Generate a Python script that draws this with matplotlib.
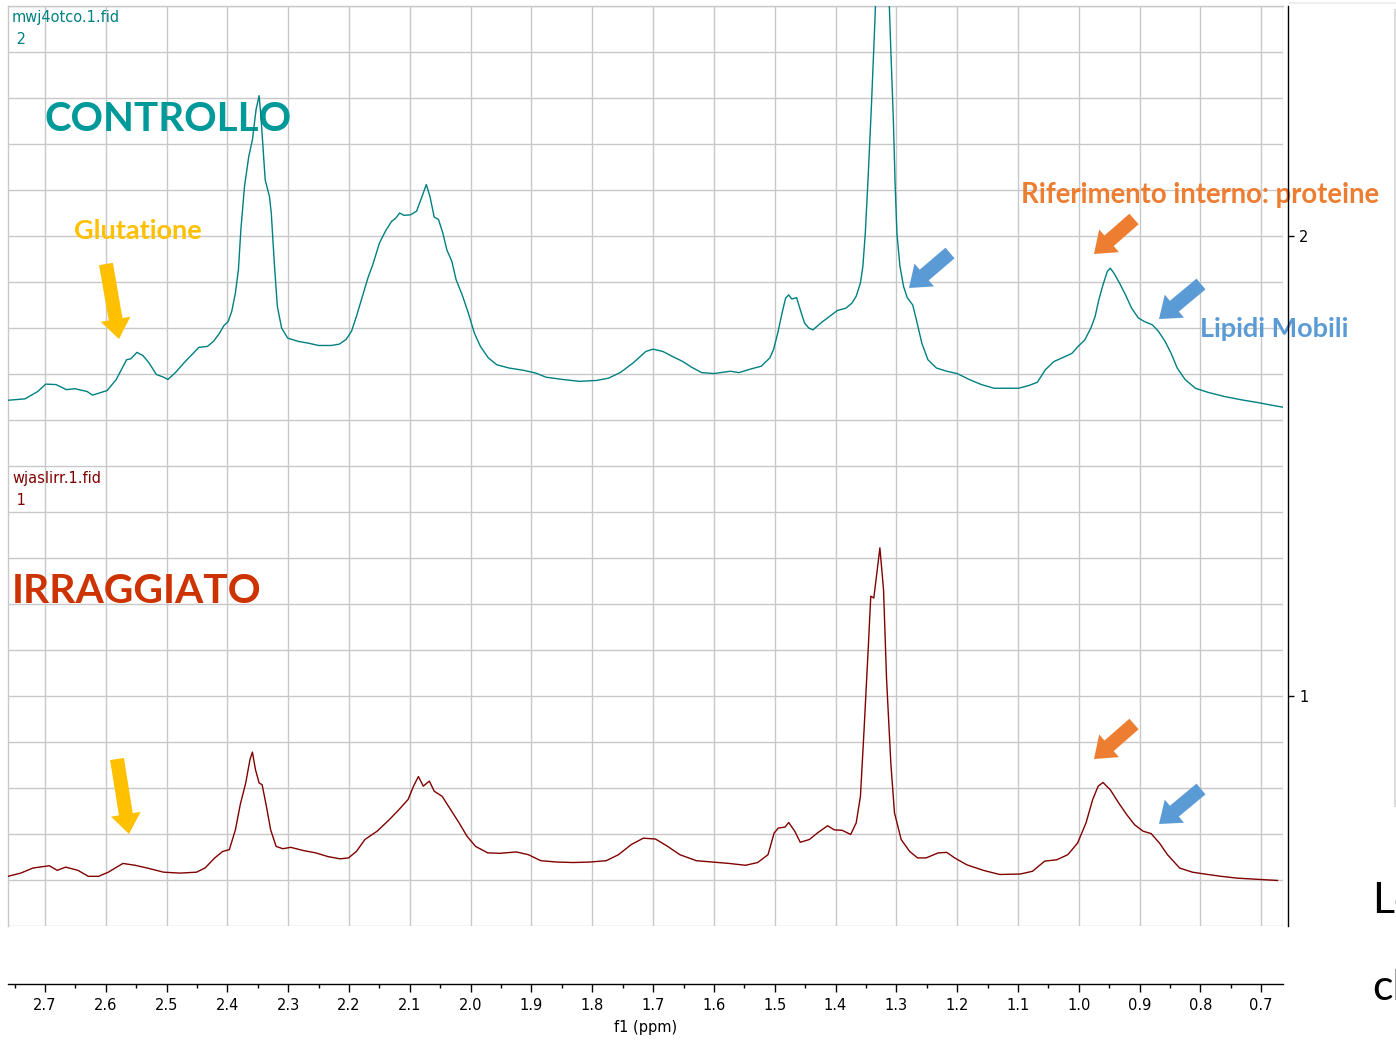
import numpy as np
import matplotlib
matplotlib.use("Agg")
import matplotlib.pyplot as plt
from matplotlib.patches import FancyArrow
from matplotlib.lines import Line2D
from matplotlib.ticker import MultipleLocator, FormatStrFormatter

# ---- spectrum 2 : control sample (ppm, stacked intensity) ----
ctrl_ppm = [2.760, 2.733, 2.712, 2.699, 2.682, 2.665, 2.651, 2.631, 2.622, 2.610,
            2.598, 2.583, 2.566, 2.559, 2.549, 2.539, 2.529, 2.517, 2.505, 2.498,
            2.485, 2.471, 2.458, 2.447, 2.433, 2.423, 2.413, 2.406, 2.399, 2.393,
            2.387, 2.382, 2.378, 2.372, 2.365, 2.359, 2.353, 2.348, 2.345, 2.338,
            2.331, 2.328, 2.323, 2.318, 2.311, 2.301, 2.284, 2.267, 2.250, 2.229,
            2.216, 2.205, 2.196, 2.188, 2.178, 2.169, 2.161, 2.150, 2.140, 2.130,
            2.123, 2.117, 2.110, 2.099, 2.089, 2.080, 2.073, 2.067, 2.060, 2.053,
            2.046, 2.039, 2.031, 2.024, 2.014, 2.004, 1.994, 1.984, 1.971, 1.957,
            1.937, 1.913, 1.893, 1.876, 1.848, 1.821, 1.793, 1.773, 1.753, 1.732,
            1.712, 1.700, 1.684, 1.668, 1.651, 1.637, 1.620, 1.600, 1.573, 1.559,
            1.539, 1.522, 1.508, 1.502, 1.495, 1.488, 1.482, 1.477, 1.472, 1.464,
            1.458, 1.451, 1.444, 1.437, 1.424, 1.410, 1.397, 1.383, 1.373, 1.366,
            1.359, 1.355, 1.351, 1.346, 1.341, 1.336, 1.332, 1.327, 1.322, 1.317,
            1.312, 1.309, 1.305, 1.302, 1.299, 1.294, 1.288, 1.282, 1.273, 1.267,
            1.258, 1.248, 1.234, 1.217, 1.200, 1.180, 1.160, 1.139, 1.119, 1.099,
            1.082, 1.068, 1.055, 1.041, 1.024, 1.011, 1.001, 0.990, 0.980, 0.973,
            0.967, 0.960, 0.953, 0.948, 0.942, 0.933, 0.923, 0.913, 0.902, 0.892,
            0.879, 0.869, 0.858, 0.848, 0.838, 0.825, 0.808, 0.787, 0.760, 0.733,
            0.706, 0.686, 0.665]
ctrl_int = [1.643, 1.646, 1.662, 1.678, 1.677, 1.666, 1.668, 1.662, 1.654, 1.659,
            1.664, 1.688, 1.731, 1.733, 1.747, 1.740, 1.724, 1.699, 1.693, 1.688,
            1.704, 1.725, 1.743, 1.758, 1.760, 1.771, 1.789, 1.805, 1.814, 1.836,
            1.876, 1.927, 2.014, 2.108, 2.173, 2.209, 2.275, 2.305, 2.260, 2.122,
            2.086, 2.050, 1.941, 1.847, 1.800, 1.778, 1.771, 1.767, 1.762, 1.762,
            1.765, 1.775, 1.793, 1.825, 1.869, 1.909, 1.938, 1.985, 2.011, 2.032,
            2.039, 2.050, 2.045, 2.046, 2.054, 2.086, 2.112, 2.086, 2.041, 2.036,
            2.007, 1.969, 1.945, 1.905, 1.872, 1.833, 1.789, 1.760, 1.735, 1.720,
            1.713, 1.708, 1.702, 1.693, 1.688, 1.684, 1.686, 1.691, 1.704, 1.725,
            1.749, 1.754, 1.749, 1.738, 1.727, 1.715, 1.703, 1.701, 1.706, 1.703,
            1.711, 1.717, 1.735, 1.753, 1.789, 1.832, 1.865, 1.872, 1.863, 1.866,
            1.840, 1.811, 1.800, 1.796, 1.811, 1.825, 1.838, 1.843, 1.854, 1.869,
            1.898, 1.934, 2.006, 2.137, 2.281, 2.441, 2.580, 2.680, 2.700, 2.640,
            2.520, 2.404, 2.259, 2.115, 2.006, 1.934, 1.890, 1.866, 1.850, 1.818,
            1.767, 1.731, 1.713, 1.706, 1.701, 1.688, 1.677, 1.669, 1.669, 1.669,
            1.675, 1.682, 1.709, 1.727, 1.737, 1.745, 1.760, 1.774, 1.800, 1.825,
            1.861, 1.894, 1.923, 1.930, 1.919, 1.898, 1.872, 1.843, 1.822, 1.814,
            1.807, 1.793, 1.771, 1.745, 1.713, 1.688, 1.669, 1.660, 1.651, 1.644,
            1.638, 1.633, 1.628]

# ---- spectrum 1 : irradiated sample ----
irr_ppm = [2.761, 2.740, 2.720, 2.693, 2.680, 2.666, 2.646, 2.629, 2.612, 2.596,
           2.572, 2.552, 2.532, 2.505, 2.478, 2.451, 2.437, 2.421, 2.408, 2.397,
           2.387, 2.379, 2.370, 2.363, 2.359, 2.354, 2.348, 2.343, 2.336, 2.329,
           2.320, 2.309, 2.296, 2.275, 2.255, 2.235, 2.215, 2.201, 2.188, 2.174,
           2.154, 2.134, 2.118, 2.103, 2.094, 2.086, 2.078, 2.068, 2.060, 2.047,
           2.033, 2.019, 2.006, 1.992, 1.972, 1.952, 1.925, 1.905, 1.885, 1.858,
           1.831, 1.804, 1.777, 1.757, 1.736, 1.716, 1.696, 1.676, 1.656, 1.629,
           1.602, 1.575, 1.548, 1.528, 1.511, 1.501, 1.494, 1.483, 1.477, 1.467,
           1.458, 1.443, 1.430, 1.413, 1.402, 1.389, 1.375, 1.366, 1.359, 1.353,
           1.346, 1.342, 1.337, 1.332, 1.327, 1.321, 1.316, 1.309, 1.303, 1.292,
           1.278, 1.265, 1.251, 1.231, 1.217, 1.204, 1.184, 1.157, 1.130, 1.096,
           1.076, 1.056, 1.036, 1.018, 1.002, 0.988, 0.977, 0.968, 0.960, 0.948,
           0.934, 0.921, 0.908, 0.894, 0.881, 0.867, 0.854, 0.834, 0.813, 0.793,
           0.766, 0.739, 0.712, 0.673]
irr_int = [0.608, 0.615, 0.626, 0.631, 0.621, 0.628, 0.621, 0.608, 0.608, 0.617,
           0.636, 0.632, 0.626, 0.617, 0.615, 0.617, 0.626, 0.648, 0.662, 0.666,
           0.709, 0.764, 0.811, 0.862, 0.878, 0.840, 0.811, 0.807, 0.760, 0.709,
           0.673, 0.668, 0.671, 0.664, 0.659, 0.651, 0.646, 0.648, 0.662, 0.688,
           0.706, 0.731, 0.753, 0.775, 0.804, 0.825, 0.804, 0.815, 0.793, 0.782,
           0.753, 0.724, 0.695, 0.673, 0.659, 0.658, 0.661, 0.655, 0.642, 0.639,
           0.638, 0.639, 0.642, 0.655, 0.677, 0.691, 0.689, 0.673, 0.655, 0.642,
           0.639, 0.636, 0.632, 0.638, 0.655, 0.702, 0.713, 0.715, 0.725, 0.706,
           0.682, 0.688, 0.702, 0.718, 0.709, 0.708, 0.699, 0.724, 0.782, 0.927,
           1.108, 1.217, 1.213, 1.267, 1.322, 1.231, 1.036, 0.854, 0.746, 0.688,
           0.662, 0.648, 0.648, 0.659, 0.660, 0.648, 0.633, 0.621, 0.612, 0.613,
           0.619, 0.641, 0.644, 0.655, 0.680, 0.724, 0.775, 0.804, 0.812, 0.796,
           0.767, 0.742, 0.720, 0.706, 0.701, 0.680, 0.655, 0.626, 0.617, 0.613,
           0.608, 0.604, 0.602, 0.599]

x_ticks = [2.7, 2.6, 2.5, 2.4, 2.3, 2.2, 2.1, 2.0, 1.9, 1.8, 1.7,
           1.6, 1.5, 1.4, 1.3, 1.2, 1.1, 1.0, 0.9, 0.8, 0.7]
trace_ticks = [1, 2]
trace_labels = ["1", "2"]

W, H = 1396, 1045
fig = plt.figure(figsize=(W / 100, H / 100), dpi=100)
fig.patch.set_facecolor("white")


def px(x, y):
    """pixel position measured from the top-left corner -> inches"""
    return (x / 100.0, (H - y) / 100.0)


ax = fig.add_axes([8 / W, (H - 926) / H, (1283 - 8) / W, (926 - 6) / H])
x_left, x_right = 2.761, 0.664
ax.set_xlim(x_left, x_right)
ax.set_ylim(0.5, 2.5)

grid_col = "#c8c8c8"
ax.set_axisbelow(True)
for yy in np.arange(0.5, 2.51, 0.1):
    ax.axhline(yy, color=grid_col, lw=1.0, zorder=0)
for xx in x_ticks:
    ax.axvline(xx, color=grid_col, lw=1.0, zorder=0)
ax.axvline(x_right, color=grid_col, lw=1.0, zorder=0)

for side in ("left", "top"):
    ax.spines[side].set_color(grid_col)
    ax.spines[side].set_linewidth(1.0)
ax.spines["right"].set_position(("outward", 3.6))
ax.spines["bottom"].set_position(("outward", 41.8))
ax.spines["right"].set_linewidth(1.0)
ax.spines["bottom"].set_linewidth(1.0)

# spectra
ax.plot(ctrl_ppm, ctrl_int, color="#008080", lw=1.0, zorder=3)
ax.plot(irr_ppm, irr_int, color="#800000", lw=1.0, zorder=3)

# axes / ticks
ax.set_xticks(x_ticks)
ax.xaxis.set_major_formatter(FormatStrFormatter("%.1f"))
ax.xaxis.set_minor_locator(MultipleLocator(0.05))
ax.tick_params(axis="x", which="major", direction="out", length=5.8, width=1.0,
               labelsize=10.5, pad=4, colors="black")
ax.tick_params(axis="x", which="minor", direction="out", length=2.9, width=1.0)
ax.set_xlabel("f1 (ppm)", fontsize=10.5, labelpad=5)

ax.yaxis.tick_right()
ax.set_yticks(trace_ticks)
ax.set_yticklabels(trace_labels)
ax.tick_params(axis="y", which="major", direction="out", length=4, width=1.0,
               labelsize=10.5, pad=4)
ax.tick_params(axis="y", which="minor", length=0)

# trace headers
hdr_font = dict(fontsize=10.5, family="DejaVu Sans", ha="left", va="baseline",
                transform=fig.dpi_scale_trans)
ax.text(*px(12, 22), "mwj4otco.1.fid", color="#008080", **hdr_font)
ax.text(*px(12, 44), " 2", color="#008080", **hdr_font)
ax.text(*px(12, 483), "wjaslirr.1.fid", color="#800000", **hdr_font)
ax.text(*px(12, 505), " 1", color="#800000", **hdr_font)

# annotations
big = dict(family="Lato", fontweight="bold", ha="left", va="baseline",
           transform=fig.dpi_scale_trans, zorder=2)
ax.text(*px(44, 131), "CONTROLLO", color="#00999A", fontsize=29, **big)
ax.text(*px(12, 603), "IRRAGGIATO", color="#CC3300", fontsize=29.3, **big)
ax.text(*px(74, 239), "Glutatione", color="#FFC000", fontsize=19.5, **big)
ax.text(*px(1021, 203), "Riferimento interno: proteine", color="#ED7D31",
        fontsize=19.8, **big)
ax.text(*px(1200, 337), "Lipidi Mobili", color="#5B9BD5", fontsize=19.5, **big)

arrows = [
    ((106, 264), (119, 339), "#FFC000"),
    ((117, 759), (129, 834), "#FFC000"),
    ((950, 253), (909, 288), "#5B9BD5"),
    ((1134, 219), (1094, 254), "#ED7D31"),
    ((1201, 284), (1159, 319), "#5B9BD5"),
    ((1134, 724), (1094, 759), "#ED7D31"),
    ((1201, 789), (1159, 824), "#5B9BD5"),
]
for (x0, y0), (x1, y1), col in arrows:
    sx, sy = px(x0, y0)
    ex, ey = px(x1, y1)
    fig.add_artist(FancyArrow(sx, sy, ex - sx, ey - sy, width=0.14,
                              head_width=0.30, head_length=0.20,
                              length_includes_head=True, color=col, lw=0,
                              transform=fig.dpi_scale_trans))

# slide text running off the right edge
fig.text(1372 / W, (H - 913) / H, "Lo", fontsize=31, family="Lato", color="black")
fig.text(1372 / W, (H - 1000) / H, "cl", fontsize=31, family="Lato", color="black")
fig.add_artist(Line2D([1395 / W, 1395 / W], [(H - 10) / H, (H - 806) / H],
                      transform=fig.transFigure, color="#dddddd", lw=1.5))
fig.add_artist(Line2D([1290 / W, 1], [(H - 3) / H, (H - 3) / H],
                      transform=fig.transFigure, color="#eeeeee", lw=1.5))

fig.savefig("out.png", dpi=100, facecolor="white")
